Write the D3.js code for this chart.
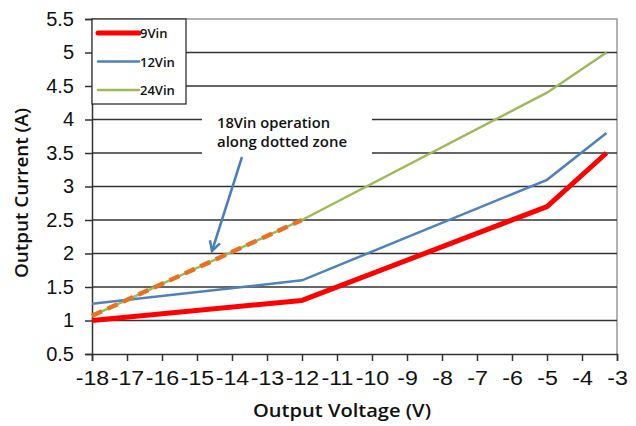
<!DOCTYPE html>
<meta charset="utf-8">
<html>
<head>
<style>
body { margin: 0; background: #fff; }
svg { display: block; }
.tick text { font-family: "Liberation Sans", Arial, sans-serif; font-size: 20px; fill: #111; }
.ttl { font-family: "Open Sans", sans-serif; font-weight: 600; font-size: 18px; fill: #111; }
.small { font-family: "Open Sans", sans-serif; font-weight: 600; font-size: 13px; fill: #111; }
.note { font-family: "Open Sans", sans-serif; font-weight: 600; font-size: 14px; fill: #111; }
</style>
</head>
<body>
<script src="https://cdn.jsdelivr.net/npm/d3@7"></script>
<script>

// data
var voltage = [-18, -12, -5, -3.3];
var vin9  = [1.0, 1.3, 2.7, 3.5];
var vin12 = [1.25, 1.6, 3.1, 3.8];
var vin24 = [1.07, 2.5, 4.4, 5.0];
var dottedV = [-18, -12];
var vin18 = [1.07, 2.5];
var xTicks = [-18,-17,-16,-15,-14,-13,-12,-11,-10,-9,-8,-7,-6,-5,-4,-3];
var yTicks = [0.5,1,1.5,2,2.5,3,3.5,4,4.5,5,5.5];

var margin = {top: 19, right: 19, bottom: 72, left: 92},
    width = 636 - margin.left - margin.right,
    height = 426 - margin.top - margin.bottom;

var svg = d3.select("body").append("svg")
    .attr("width", 636)
    .attr("height", 426)
  .append("g")
    .attr("transform", "translate(" + margin.left + "," + margin.top + ")");

var x = d3.scaleLinear().domain([-18, -3]).range([0, width]);
var y = d3.scaleLinear().domain([0.5, 5.5]).range([height, 0]);

// frame (top + right gray)
svg.append("path")
    .attr("d", "M0,0H" + width + "V" + height)
    .attr("fill", "none").attr("stroke", "#999").attr("stroke-width", 1.5);

// gridlines
svg.selectAll(".grid").data(yTicks.slice(1, -1)).enter().append("line")
    .attr("class", "grid")
    .attr("x1", 0).attr("x2", width)
    .attr("y1", function(d) { return y(d); }).attr("y2", function(d) { return y(d); })
    .attr("stroke", "#333").attr("stroke-width", 1.3);

// axes
var xAxis = d3.axisBottom(x).tickValues(xTicks).tickSize(7).tickPadding(9)
    .tickFormat(function(d) { return d; });
var yAxis = d3.axisLeft(y).tickValues(yTicks).tickSize(7).tickPadding(9)
    .tickFormat(function(d) { return d; });

var gx = svg.append("g").attr("transform", "translate(0," + height + ")").call(xAxis);
var gy = svg.append("g").call(yAxis);
[gx, gy].forEach(function(g) {
  g.select(".domain").attr("stroke", "#333").attr("stroke-width", 1.5);
  g.selectAll(".tick line").attr("stroke", "#333").attr("stroke-width", 1.5);
});
gx.selectAll(".tick text").attr("dy", "0.75em").attr("text-anchor", "middle")
    .attr("transform", "scale(1.16,1)");
gy.selectAll(".tick text").attr("dx", "-2");

var line = d3.line()
    .x(function(d) { return x(d[0]); })
    .y(function(d) { return y(d[1]); });

function pts(xs, ys) { return xs.map(function(v, i) { return [v, ys[i]]; }); }

svg.append("path").datum(pts(voltage, vin24)).attr("d", line)
    .attr("fill", "none").attr("stroke", "#9BBB59").attr("stroke-width", 2.5);
svg.append("path").datum(pts(voltage, vin12)).attr("d", line)
    .attr("fill", "none").attr("stroke", "#4F81BD").attr("stroke-width", 2.5);
svg.append("path").datum(pts(voltage, vin9)).attr("d", line)
    .attr("fill", "none").attr("stroke", "#FF0000").attr("stroke-width", 5)
    .attr("stroke-linejoin", "round");
svg.append("path").datum(pts(dottedV, vin18)).attr("d", line)
    .attr("fill", "none").attr("stroke", "#E8731F").attr("stroke-width", 4.5)
    .attr("stroke-dasharray", "11,6");

// legend
var legend = svg.append("g");
legend.append("rect").attr("x", 0).attr("y", 0).attr("width", 94).attr("height", 85)
    .attr("fill", "#fff").attr("stroke", "#222").attr("stroke-width", 1.2);
var legItems = [["9Vin", "#FF0000", 5], ["12Vin", "#4F81BD", 2.5], ["24Vin", "#9BBB59", 2.5]];
legItems.forEach(function(d, i) {
  var ly = 14 + i * 28.5;
  legend.append("line").attr("x1", 6).attr("x2", 47).attr("y1", ly).attr("y2", ly)
      .attr("stroke", d[1]).attr("stroke-width", d[2]).attr("stroke-linecap", "round");
  legend.append("text").attr("class", "small").attr("x", 48).attr("y", ly + 5)
      .text(d[0]);
});

// annotation
svg.append("rect").attr("x", 110).attr("y", 92).attr("width", 170).attr("height", 46)
    .attr("fill", "#fff");
svg.append("text").attr("class", "note").attr("x", 125).attr("y", 109)
    .attr("textLength", 113).attr("lengthAdjust", "spacingAndGlyphs")
    .text("18Vin operation");
svg.append("text").attr("class", "note").attr("x", 125).attr("y", 128)
    .attr("textLength", 130).attr("lengthAdjust", "spacingAndGlyphs")
    .text("along dotted zone");

var a0 = [150, 138], a1 = [120, 232];
var ang = Math.atan2(a1[1] - a0[1], a1[0] - a0[0]);
var hl = 11, hw = 0.5;
svg.append("line").attr("x1", a0[0]).attr("y1", a0[1]).attr("x2", a1[0]).attr("y2", a1[1])
    .attr("stroke", "#4A7EBB").attr("stroke-width", 2.5);
svg.append("path")
    .attr("d", "M" + (a1[0] - hl * Math.cos(ang - hw)) + "," + (a1[1] - hl * Math.sin(ang - hw)) +
               "L" + a1[0] + "," + a1[1] +
               "L" + (a1[0] - hl * Math.cos(ang + hw)) + "," + (a1[1] - hl * Math.sin(ang + hw)))
    .attr("fill", "none").attr("stroke", "#4A7EBB").attr("stroke-width", 2.5);

// axis titles
svg.append("text").attr("class", "ttl").attr("text-anchor", "middle")
    .attr("x", 250).attr("y", height + 63)
    .attr("textLength", 178).attr("lengthAdjust", "spacingAndGlyphs")
    .text("Output Voltage (V)");
svg.append("text").attr("class", "ttl").attr("text-anchor", "middle")
    .attr("transform", "translate(-64," + (174) + ") rotate(-90)")
    .attr("textLength", 170).attr("lengthAdjust", "spacingAndGlyphs")
    .text("Output Current (A)");

</script>
</body>
</html>
